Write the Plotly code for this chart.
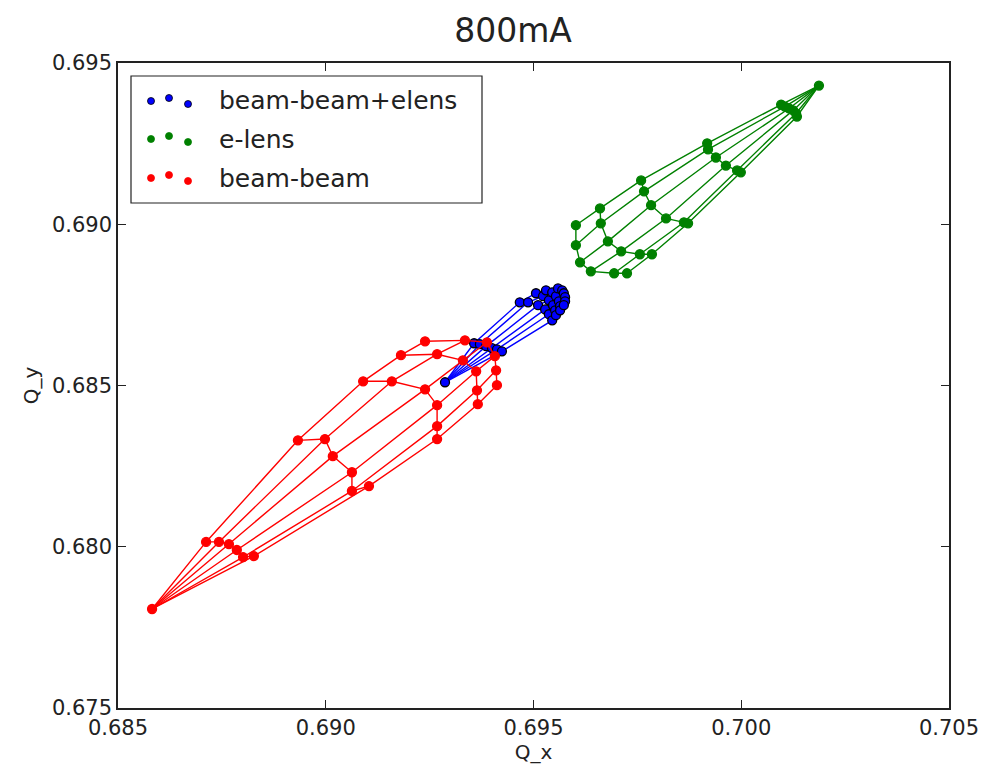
import plotly.graph_objects as go

# ---------------- data (tune footprints, 5 amplitude rings x 6 angles) ----------------
# beam-beam (red)
bb_origin_qx = 0.68582
bb_origin_qy = 0.67807
bb_qx = [
    [0.68712, 0.68743, 0.68767, 0.68786, 0.68801, 0.68827],
    [0.68933, 0.68998, 0.69017, 0.69063, 0.69063, 0.69104],
    [0.69090, 0.69159, 0.69239, 0.69268, 0.69268, 0.69268],
    [0.69181, 0.69268, 0.69330, 0.69362, 0.69364, 0.69366],
    [0.69239, 0.69335, 0.69388, 0.69407, 0.69410, 0.69412],
]
bb_qy = [
    [0.68015, 0.68015, 0.68008, 0.67990, 0.67968, 0.67971],
    [0.68330, 0.68334, 0.68281, 0.68231, 0.68173, 0.68188],
    [0.68513, 0.68513, 0.68488, 0.68439, 0.68374, 0.68334],
    [0.68594, 0.68597, 0.68578, 0.68544, 0.68485, 0.68442],
    [0.68637, 0.68640, 0.68634, 0.68591, 0.68547, 0.68501],
]

# beam-beam + elens (blue)
bbel_origin_qx = 0.69287
bbel_origin_qy = 0.68510
bbel_qx = [
    [0.69357, 0.69371, 0.69386, 0.69400, 0.69412, 0.69424],
    [0.69467, 0.69487, 0.69511, 0.69528, 0.69537, 0.69545],
    [0.69506, 0.69523, 0.69537, 0.69547, 0.69552, 0.69554],
    [0.69530, 0.69545, 0.69554, 0.69561, 0.69564, 0.69564],
    [0.69559, 0.69569, 0.69573, 0.69576, 0.69576, 0.69573],
]
bbel_qy = [
    [0.68631, 0.68628, 0.68622, 0.68616, 0.68612, 0.68606],
    [0.68758, 0.68758, 0.68749, 0.68736, 0.68721, 0.68702],
    [0.68786, 0.68777, 0.68764, 0.68749, 0.68733, 0.68718],
    [0.68795, 0.68789, 0.68777, 0.68761, 0.68746, 0.68733],
    [0.68801, 0.68795, 0.68786, 0.68774, 0.68761, 0.68749],
]

# e-lens (green)
el_origin_qx = 0.70187
el_origin_qy = 0.69430
el_qx = [
    [0.70096, 0.70105, 0.70115, 0.70125, 0.70132, 0.70134],
    [0.69918, 0.69920, 0.69939, 0.69963, 0.69990, 0.69999],
    [0.69759, 0.69766, 0.69783, 0.69819, 0.69862, 0.69872],
    [0.69660, 0.69662, 0.69679, 0.69711, 0.69756, 0.69785],
    [0.69602, 0.69602, 0.69612, 0.69638, 0.69694, 0.69725],
]
el_qy = [
    [0.69371, 0.69365, 0.69359, 0.69353, 0.69344, 0.69334],
    [0.69251, 0.69232, 0.69207, 0.69182, 0.69167, 0.69161],
    [0.69136, 0.69102, 0.69059, 0.69018, 0.69006, 0.69003],
    [0.69049, 0.69003, 0.68947, 0.68916, 0.68907, 0.68907],
    [0.68997, 0.68935, 0.68882, 0.68854, 0.68848, 0.68848],
]

series_names = ["beam-beam+elens", "e-lens", "beam-beam"]
series_colors = ["#0000ff", "#008000", "#ff0000"]

x_ticks = [0.685, 0.690, 0.695, 0.700, 0.705]
y_ticks = [0.675, 0.680, 0.685, 0.690, 0.695]

FONT = "DejaVu Sans"


def footprint_paths(ox, oy, qx, qy):
    xs, ys = [], []
    n_ring = len(qx)
    n_ang = len(qx[0])
    # spokes (constant angle)
    for k in range(n_ang):
        xs += [ox] + [qx[i][k] for i in range(n_ring)] + [None]
        ys += [oy] + [qy[i][k] for i in range(n_ring)] + [None]
    # rings (constant amplitude)
    for i in range(n_ring):
        xs += list(qx[i]) + [None]
        ys += list(qy[i]) + [None]
    px = [ox] + [v for row in qx for v in row]
    py = [oy] + [v for row in qy for v in row]
    return xs, ys, px, py


fig = go.Figure()
datasets = [
    (bbel_origin_qx, bbel_origin_qy, bbel_qx, bbel_qy),
    (el_origin_qx, el_origin_qy, el_qx, el_qy),
    (bb_origin_qx, bb_origin_qy, bb_qx, bb_qy),
]
for (ox, oy, qx, qy), name, col in zip(datasets, series_names, series_colors):
    xs, ys, px, py = footprint_paths(ox, oy, qx, qy)
    edge = "#000000" if col == "#0000ff" else col
    fig.add_trace(go.Scatter(x=xs, y=ys, mode="lines", name=name,
                             line=dict(color=col, width=1.4),
                             showlegend=False, hoverinfo="skip"))
    fig.add_trace(go.Scatter(x=px, y=py, mode="markers", name=name,
                             marker=dict(color=col, size=9,
                                         line=dict(color=edge, width=1.3)),
                             showlegend=False))

# ---------------- layout ----------------
L, R, T, B = 110, 45, 55, 65
W, H = 986, 765
pw, ph = W - L - R, H - T - B


def pxx(x):
    return (x - L) / pw


def pxy(y):
    return (H - B - y) / ph


axis_common = dict(showline=True, linecolor="#222222", linewidth=1.5,
                   mirror="ticks", ticks="inside", ticklen=8, tickwidth=1,
                   tickcolor="#222222", showgrid=False, zeroline=False,
                   tickfont=dict(family=FONT, size=21, color="#222222"),
                   automargin=False)

fig.update_layout(
    width=W, height=H,
    margin=dict(l=L, r=R, t=T, b=B),
    plot_bgcolor="white", paper_bgcolor="white",
    showlegend=False,
    title=dict(text="800mA", x=pxx(505), xref="paper", xanchor="center",
               y=1 - 22 / H, yref="container", yanchor="middle",
               font=dict(family=FONT, size=33, color="#222222")),
    xaxis=dict(range=[0.685, 0.705], tickvals=x_ticks,
               ticktext=[f"{v:.3f}" for v in x_ticks],
               title=dict(text="Q_x", standoff=0,
                          font=dict(family=FONT, size=20, color="#222222")),
               **axis_common),
    yaxis=dict(range=[0.675, 0.695], tickvals=y_ticks,
               ticktext=[f"{v:.3f}" for v in y_ticks],
               title=dict(text="Q_y", standoff=8,
                          font=dict(family=FONT, size=20, color="#222222")),
               **axis_common),
)

# ---------------- custom legend (matplotlib-style, three dots per entry) ----------------
shapes = [dict(type="rect", xref="paper", yref="paper",
               x0=pxx(123), x1=pxx(474), y0=pxy(195), y1=pxy(68),
               line=dict(color="#222222", width=1.2), fillcolor="white",
               layer="above")]
row_y = [93, 131, 170]
dot_x = [143, 161, 180]
dot_dy = [0, -3, 3]
annotations = []
for name, col, ry in zip(series_names, series_colors, row_y):
    for dx, dy in zip(dot_x, dot_dy):
        shapes.append(dict(type="circle", xref="paper", yref="paper",
                           xsizemode="pixel", ysizemode="pixel",
                           xanchor=pxx(dx), yanchor=pxy(ry + dy),
                           x0=-3.5, x1=3.5, y0=-3.5, y1=3.5,
                           fillcolor=col,
                           line=dict(color="#000000" if col == "#0000ff" else col, width=0.8),
                           layer="above"))
    annotations.append(dict(text=name, xref="paper", yref="paper",
                            x=pxx(209), y=pxy(ry), xanchor="left", yanchor="middle",
                            showarrow=False,
                            font=dict(family=FONT, size=25, color="#222222")))

fig.update_layout(shapes=shapes, annotations=annotations)
fig.write_html("out.html")
